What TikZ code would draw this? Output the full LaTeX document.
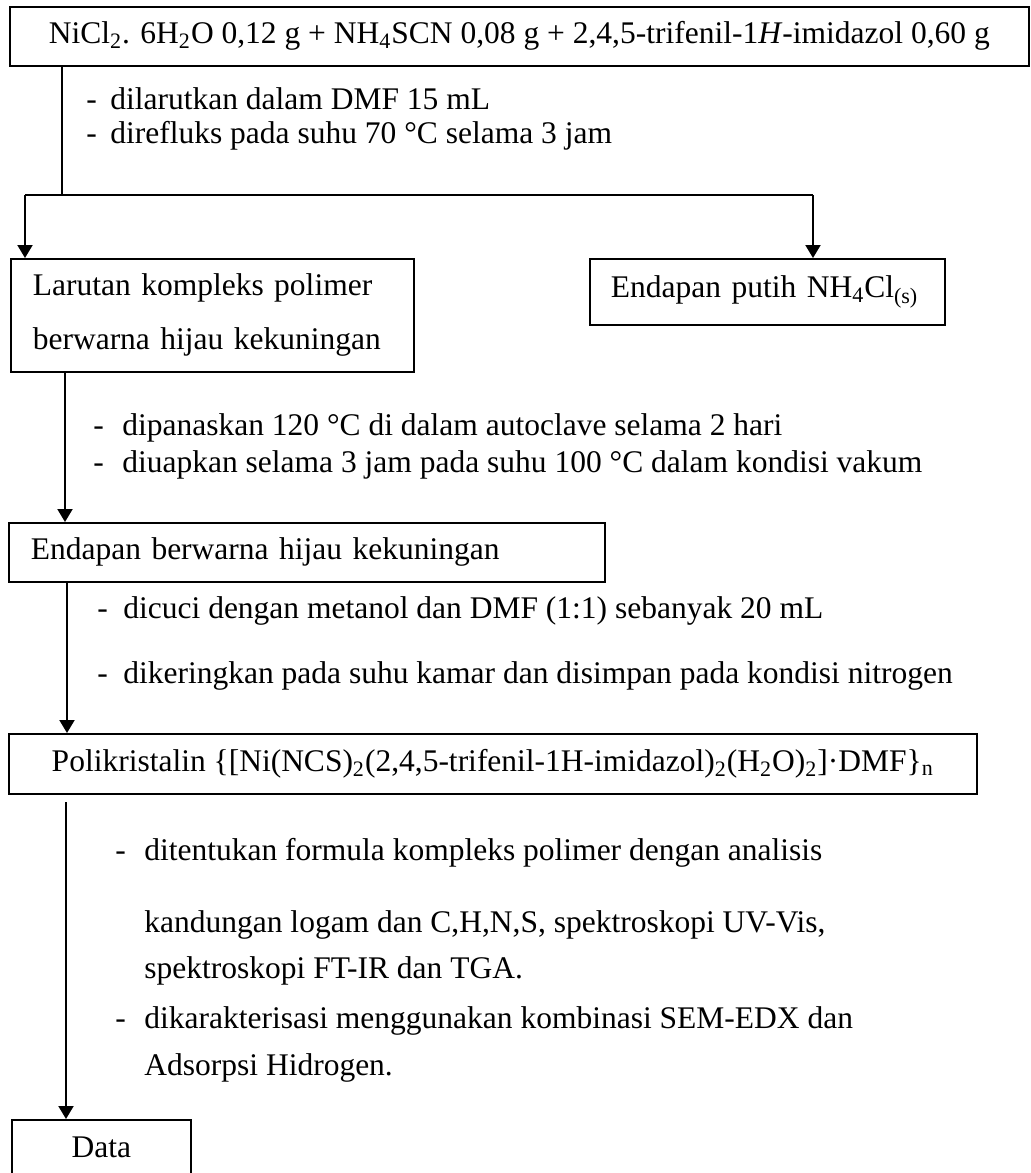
\documentclass[tikz,border=0pt]{standalone}
\usepackage{fontspec}
\setmainfont{Liberation Serif}
\usetikzlibrary{arrows.meta}
\begin{document}
\begin{tikzpicture}[x={(0.5pt,0)}, y={(0,-0.5pt)},
  every node/.style={font=\fontsize{15.75pt}{19pt}\selectfont},
  box/.style={draw, line width=0.8pt, inner ysep=0pt, anchor=north west},
  link/.style={line width=1pt},
  arr/.style={link, -{Triangle[width=7.5pt,length=6.5pt]}},
  steptext/.style={anchor=base west, inner sep=0pt}]
\useasboundingbox (0,0) rectangle (1030,1173);

% boxes
\node[box, minimum width=509.5pt, minimum height=29.5pt] (b1) at (9,6)
  {NiCl\textsubscript{2}. 6H\textsubscript{2}O 0,12 g + NH\textsubscript{4}SCN 0,08 g + 2,4,5-trifenil-1\textit{H}-imidazol 0,60 g};
\node[box, text width=179.5pt, inner xsep=11pt, minimum height=56.5pt, align=left,
  font=\fontsize{15.75pt}{27pt}\selectfont] (b2) at (10,258)
  {Larutan kompleks polimer\\berwarna hijau kekuningan};
\node[box, text width=156.5pt, inner xsep=10.5pt, minimum height=33pt, align=left] (b3) at (589,258)
  {Endapan putih NH\textsubscript{4}Cl\textsubscript{(s)}};
\node[box, text width=276pt, inner xsep=11pt, minimum height=29.5pt, align=left] (b4) at (8,522)
  {Endapan berwarna hijau kekuningan};
\node[box, minimum width=484pt, minimum height=30pt] (b5) at (8,733)
  {Polikristalin \{[Ni(NCS)\textsubscript{2}(2,4,5-trifenil-1H-imidazol)\textsubscript{2}(H\textsubscript{2}O)\textsubscript{2}]·DMF\}\textsubscript{n}};
\node[box, minimum width=89.5pt, minimum height=28pt] (b6) at (11,1119) {Data};

% step texts
\node[steptext] (s1a) at (86,109) {\makebox[12pt][l]{-}dilarutkan dalam DMF 15 mL};
\node[steptext] (s1b) at (86,143) {\makebox[12pt][l]{-}direfluks pada suhu 70 °C selama 3 jam};
\node[steptext] (s2a) at (93,435) {\makebox[14.5pt][l]{-}dipanaskan 120 °C di dalam autoclave selama 2 hari};
\node[steptext] (s2b) at (93,472) {\makebox[14.5pt][l]{-}diuapkan selama 3 jam pada suhu 100 °C dalam kondisi vakum};
\node[steptext] (s3a) at (97,618) {\makebox[13pt][l]{-}dicuci dengan metanol dan DMF (1:1) sebanyak 20 mL};
\node[steptext] (s3b) at (97,683) {\makebox[13pt][l]{-}dikeringkan pada suhu kamar dan disimpan pada kondisi nitrogen};
\node[steptext] (s4a) at (115,860) {\makebox[14.5pt][l]{-}ditentukan formula kompleks polimer dengan analisis};
\node[steptext] (s4b) at (144,932) {kandungan logam dan C,H,N,S, spektroskopi UV-Vis,};
\node[steptext] (s4c) at (144,978) {spektroskopi FT-IR dan TGA.};
\node[steptext] (s4d) at (115,1028) {\makebox[14.5pt][l]{-}dikarakterisasi menggunakan kombinasi SEM-EDX dan};
\node[steptext] (s4e) at (144,1075) {Adsorpsi Hidrogen.};

% connectors
\coordinate (j1) at (62,195);
\coordinate (jl) at (25,195);
\coordinate (jr) at (813,195);
\draw[link] (b1.south -| j1) -- (j1);
\draw[link] (jl) -- (jr);
\draw[arr] (jl) -- (jl |- b2.north);
\draw[arr] (jr) -- (jr |- b3.north);

\coordinate (x2) at (65,0);
\draw[arr] (x2 |- b2.south) -- (x2 |- b4.north);
\coordinate (x4) at (67,0);
\draw[arr] (x4 |- b4.south) -- (x4 |- b5.north);
\coordinate (x5) at (66,802);
\draw[arr] (x5) -- (x5 |- b6.north);
\end{tikzpicture}
\end{document}
